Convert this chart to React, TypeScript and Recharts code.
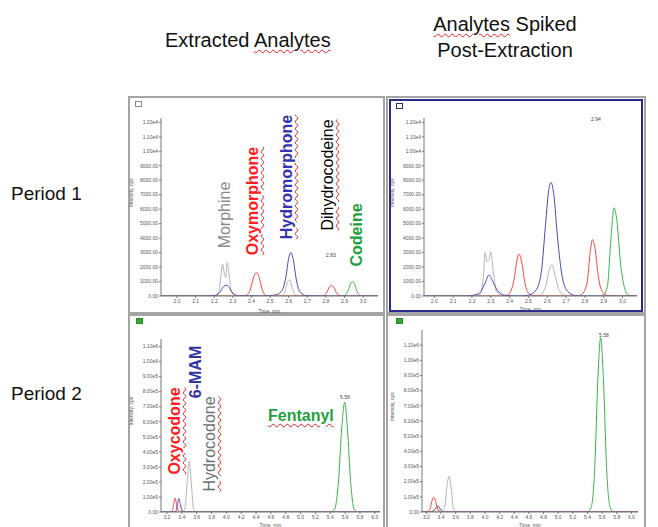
import React from "react";
import { LineChart, Line, XAxis, YAxis } from "recharts";

// retention times (min) and intensities (cps), as [time, intensity]
const p1ExtractedGray = [[1.914, 0], [2.15, 0], [2.21, 20], [2.225, 300], [2.235, 1300], [2.245, 2200], [2.255, 1500], [2.262, 1300], [2.27, 2300], [2.28, 1500], [2.29, 400], [2.31, 40], [2.5, 0], [2.56, 30], [2.58, 300], [2.595, 1000], [2.605, 1100], [2.62, 500], [2.64, 60], [2.7, 0], [3.08, 0]];
const p1ExtractedBlue = [[1.914, 0], [2.15, 0], [2.2, 40], [2.23, 250], [2.25, 650], [2.265, 750], [2.28, 600], [2.3, 200], [2.33, 20], [2.45, 0], [2.52, 50], [2.56, 300], [2.585, 1300], [2.6, 2600], [2.612, 3000], [2.625, 2500], [2.64, 1200], [2.66, 300], [2.69, 40], [2.75, 0], [3.08, 0]];
const p1ExtractedRed = [[1.914, 0], [2.33, 0], [2.37, 40], [2.39, 300], [2.405, 1000], [2.42, 1550], [2.43, 1600], [2.445, 1100], [2.46, 350], [2.48, 40], [2.52, 0], [2.76, 0], [2.79, 40], [2.805, 250], [2.82, 650], [2.83, 740], [2.845, 550], [2.86, 150], [2.88, 20], [2.92, 0], [3.08, 0]];
const p1ExtractedGreen = [[1.914, 0], [2.87, 0], [2.9, 40], [2.92, 400], [2.935, 900], [2.945, 1000], [2.955, 800], [2.97, 250], [2.99, 30], [3.02, 0], [3.08, 0]];

const p1SpikedGray = [[1.945, 0], [2.2, 0], [2.24, 80], [2.26, 1200], [2.27, 3000], [2.28, 2400], [2.29, 2500], [2.3, 3050], [2.315, 1500], [2.33, 300], [2.36, 30], [2.5, 0], [2.56, 60], [2.59, 600], [2.61, 1800], [2.625, 2150], [2.64, 1500], [2.66, 500], [2.69, 60], [2.74, 0], [3.077, 0]];
const p1SpikedBlue = [[1.945, 0], [2.15, 0], [2.2, 40], [2.24, 200], [2.27, 900], [2.29, 1450], [2.31, 1000], [2.34, 300], [2.38, 40], [2.45, 0], [2.5, 60], [2.54, 400], [2.57, 1800], [2.59, 4800], [2.61, 7500], [2.62, 7850], [2.635, 7000], [2.655, 4000], [2.68, 1300], [2.71, 300], [2.75, 30], [2.8, 0], [3.077, 0]];
const p1SpikedRed = [[1.945, 0], [2.36, 0], [2.39, 80], [2.42, 900], [2.44, 2500], [2.45, 2900], [2.465, 2300], [2.48, 1000], [2.5, 200], [2.53, 20], [2.6, 0], [2.75, 0], [2.78, 80], [2.81, 800], [2.83, 3200], [2.84, 3900], [2.855, 3200], [2.87, 1500], [2.89, 350], [2.92, 40], [2.96, 0], [3.077, 0]];
const p1SpikedGreen = [[1.945, 0], [2.87, 0], [2.9, 80], [2.92, 700], [2.94, 4200], [2.955, 6100], [2.97, 5200], [2.99, 2200], [3.01, 600], [3.03, 80], [3.06, 0], [3.077, 0]];

const p2ExtractedRed = [[3.12, 0], [3.22, 0], [3.27, 5000], [3.29, 50000], [3.31, 93000], [3.33, 50000], [3.36, 5000], [3.4, 0], [6.07, 0]];
const p2ExtractedBlue = [[3.12, 0], [3.28, 0], [3.32, 5000], [3.34, 50000], [3.36, 90000], [3.38, 50000], [3.41, 5000], [3.45, 0], [6.07, 0]];
const p2ExtractedGray = [[3.12, 0], [3.4, 0], [3.44, 20000], [3.47, 180000], [3.5, 340000], [3.53, 180000], [3.56, 20000], [3.6, 0], [6.07, 0]];
const p2ExtractedGreen = [[3.12, 0], [5.4, 0], [5.46, 20000], [5.51, 200000], [5.555, 560000], [5.595, 730000], [5.63, 560000], [5.675, 200000], [5.72, 20000], [5.78, 0], [6.07, 0]];

const p2SpikedRed = [[3.14, 0], [3.2, 0], [3.25, 20000], [3.28, 80000], [3.3, 97000], [3.32, 80000], [3.35, 25000], [3.39, 0], [6.09, 0]];
const p2SpikedOrange = [[3.14, 0], [3.26, 0], [3.31, 20000], [3.34, 30000], [3.37, 10000], [3.4, 0], [6.09, 0]];
const p2SpikedBlue = [[3.14, 0], [3.28, 0], [3.33, 25000], [3.36, 40000], [3.39, 20000], [3.43, 0], [6.09, 0]];
const p2SpikedGray = [[3.14, 0], [3.4, 0], [3.45, 30000], [3.48, 170000], [3.51, 235000], [3.54, 150000], [3.57, 20000], [3.62, 0], [6.09, 0]];
const p2SpikedGreen = [[3.14, 0], [5.4, 0], [5.45, 30000], [5.5, 300000], [5.54, 850000], [5.58, 1150000], [5.62, 850000], [5.66, 300000], [5.71, 30000], [5.76, 0], [6.09, 0]];

const p1TimeTicks = [2.0, 2.1, 2.2, 2.3, 2.4, 2.5, 2.6, 2.7, 2.8, 2.9, 3.0];
const p1IntensityTicks = [0, 1000, 2000, 3000, 4000, 5000, 6000, 7000, 8000, 9000, 10000, 11000, 12000];
const p2TimeTicks = [3.2, 3.4, 3.6, 3.8, 4.0, 4.2, 4.4, 4.6, 4.8, 5.0, 5.2, 5.4, 5.6, 5.8, 6.0];
const p2IntensityTicks = [0, 100000, 200000, 300000, 400000, 500000, 600000, 700000, 800000, 900000, 1000000, 1100000];

const GRAY = "#b4b4b4";
const BLUE = "#4b4bb8";
const RED = "#ff4545";
const GREEN = "#3cb44c";
const ORANGE = "#f0a040";
const FONT = "'Liberation Sans', Arial, sans-serif";

const pts = (a: number[][]) => a.map(([t, y]) => ({ t, y }));

const fmtP1 = (v: number) => (v >= 10000 ? (v / 10000).toFixed(2) + "e4" : v.toFixed(2));
const fmtP2 = (v: number) => (v === 0 ? "0.00" : v >= 1000000 ? (v / 1000000).toFixed(2) + "e6" : (v / 100000).toFixed(2) + "e5");

type Trace = { data: number[][]; color: string };
type PanelProps = {
  left: number; top: number; width: number; height: number;
  yWidth: number; xHeight: number; mTop: number; mRight: number;
  xDomain: [number, number]; xTicks: number[];
  yDomain: [number, number]; yTicks: number[]; yFmt: (v: number) => string;
  traces: Trace[];
};

function Panel(p: PanelProps) {
  return (
    <div style={{ position: "absolute", left: p.left, top: p.top }}>
      <LineChart width={p.width} height={p.height} margin={{ top: p.mTop, right: p.mRight, left: 0, bottom: 0 }}>
        <XAxis dataKey="t" type="number" domain={p.xDomain} ticks={p.xTicks} allowDataOverflow height={p.xHeight}
          tickFormatter={(v: number) => v.toFixed(1)} tick={{ fontSize: 5, fill: "#555", fontFamily: FONT }}
          tickSize={2} tickMargin={1} stroke="#777"
          label={{ value: "Time, min", position: "insideBottom", offset: 0, fontSize: 5, fill: "#555", fontFamily: FONT }} />
        <YAxis type="number" domain={p.yDomain} ticks={p.yTicks} allowDataOverflow width={p.yWidth}
          tickFormatter={p.yFmt} tick={{ fontSize: 5, fill: "#555", fontFamily: FONT }}
          tickSize={2} tickMargin={1} stroke="#777"
          label={{ value: "Intensity, cps", angle: -90, position: "insideLeft", offset: 2, fontSize: 5, fill: "#555", fontFamily: FONT }} />
        {p.traces.map((tr, i) => (
          <Line key={i} data={pts(tr.data)} dataKey="y" type="monotone" stroke={tr.color} strokeWidth={1}
            dot={false} isAnimationActive={false} />
        ))}
      </LineChart>
    </div>
  );
}

const wavy = { textDecoration: "underline wavy #e02020", textDecorationThickness: 1, textUnderlineOffset: 2 } as const;

function VLabel({ x, y, text, color, bold, underline }: { x: number; y: number; text: string; color: string; bold?: boolean; underline?: boolean }) {
  return (
    <div style={{
      position: "absolute", left: x, top: y, transform: "translate(-50%, -50%) rotate(-90deg)",
      whiteSpace: "nowrap", fontSize: 16, fontFamily: FONT, color, fontWeight: bold ? "bold" : "normal",
      lineHeight: "18px", ...(underline ? wavy : {}),
    }}>{text}</div>
  );
}

function Note({ x, y, text }: { x: number; y: number; text: string }) {
  return <div style={{ position: "absolute", left: x, top: y, fontSize: 5, fontFamily: FONT, color: "#444" }}>{text}</div>;
}

const frame = (left: number, top: number, width: number, height: number, color = "#a4a4a4") => (
  <div style={{ position: "absolute", left, top, width, height, border: `2px solid ${color}`, boxSizing: "border-box" }} />
);

const icon = (left: number, top: number, color: string) => (
  <div style={{ position: "absolute", left, top, width: 5, height: 4, border: `1px solid ${color}`, background: color === "#2a8a2a" ? "#3a3" : "#fff" }} />
);

export default function App() {
  return (
    <div style={{ position: "absolute", left: 0, top: 0, width: 658, height: 527, overflow: "hidden", background: "#fff", fontFamily: FONT }}>
      <div style={{ position: "absolute", left: 165, top: 29, fontSize: 20, color: "#111", whiteSpace: "nowrap" }}>
        Extracted <span style={wavy}>Analytes</span>
      </div>
      <div style={{ position: "absolute", left: 400, top: 11, width: 210, textAlign: "center", fontSize: 20, lineHeight: "26px", color: "#111" }}>
        <span style={wavy}>Analytes</span> Spiked<br />Post-Extraction
      </div>
      <div style={{ position: "absolute", left: 11, top: 183, fontSize: 19, color: "#111" }}>Period 1</div>
      <div style={{ position: "absolute", left: 11, top: 383, fontSize: 19, color: "#111" }}>Period 2</div>

      {frame(128, 96, 257, 218)}
      {frame(386, 96, 260, 218)}
      {frame(389, 99, 254, 213, "#2a2a8c")}
      {frame(128, 314, 257, 216)}
      {frame(386, 314, 260, 216)}
      {icon(135, 101, "#888")}
      {icon(396, 103, "#2a2a8c")}
      {icon(136, 318, "#2a8a2a")}
      {icon(396, 318, "#2a8a2a")}

      <Panel left={129} top={97} width={254} height={216} yWidth={32} xHeight={17} mTop={21} mRight={5}
        xDomain={[1.914, 3.08]} xTicks={p1TimeTicks} yDomain={[0, 12300]} yTicks={p1IntensityTicks} yFmt={fmtP1}
        traces={[{ data: p1ExtractedGreen, color: GREEN }, { data: p1ExtractedGray, color: GRAY }, { data: p1ExtractedRed, color: RED }, { data: p1ExtractedBlue, color: BLUE }]} />
      <Panel left={390} top={100} width={253} height={211} yWidth={34} xHeight={15} mTop={18} mRight={6}
        xDomain={[1.945, 3.077]} xTicks={p1TimeTicks} yDomain={[0, 12300]} yTicks={p1IntensityTicks} yFmt={fmtP1}
        traces={[{ data: p1SpikedGreen, color: GREEN }, { data: p1SpikedGray, color: GRAY }, { data: p1SpikedRed, color: RED }, { data: p1SpikedBlue, color: BLUE }]} />
      <Panel left={129} top={317} width={254} height={210} yWidth={32} xHeight={15} mTop={22} mRight={3}
        xDomain={[3.12, 6.07]} xTicks={p2TimeTicks} yDomain={[0, 1150000]} yTicks={p2IntensityTicks} yFmt={fmtP2}
        traces={[{ data: p2ExtractedGreen, color: GREEN }, { data: p2ExtractedGray, color: GRAY }, { data: p2ExtractedRed, color: RED }, { data: p2ExtractedBlue, color: BLUE }]} />
      <Panel left={390} top={317} width={253} height={210} yWidth={32} xHeight={15} mTop={13} mRight={5}
        xDomain={[3.14, 6.09]} xTicks={p2TimeTicks} yDomain={[0, 1200000]} yTicks={p2IntensityTicks} yFmt={fmtP2}
        traces={[{ data: p2SpikedGreen, color: GREEN }, { data: p2SpikedGray, color: GRAY }, { data: p2SpikedOrange, color: ORANGE }, { data: p2SpikedRed, color: RED }, { data: p2SpikedBlue, color: BLUE }]} />

      <Note x={326} y={252} text="2.83" />
      <Note x={591} y={116} text="2.94" />
      <Note x={340} y={394} text="5.58" />
      <Note x={599} y={332} text="5.58" />

      <VLabel x={225} y={215} text="Morphine" color="#8a8a8a" />
      <VLabel x={253} y={201} text="Oxymorphone" color="#ff2020" bold underline />
      <VLabel x={287} y={177} text="Hydromorphone" color="#3333b0" bold underline />
      <VLabel x={328} y={175} text="Dihydrocodeine" color="#000" underline />
      <VLabel x={357} y={235} text="Codeine" color="#22a040" bold />
      <VLabel x={175} y={431} text="Oxycodone" color="#ff2020" bold underline />
      <VLabel x={196} y={372} text="6-MAM" color="#3333a8" bold />
      <VLabel x={210} y={444} text="Hydrocodone" color="#707070" underline />
      <div style={{ position: "absolute", left: 268, top: 407, fontSize: 16, fontWeight: "bold", color: "#22a040", ...wavy }}>Fentanyl</div>
    </div>
  );
}
